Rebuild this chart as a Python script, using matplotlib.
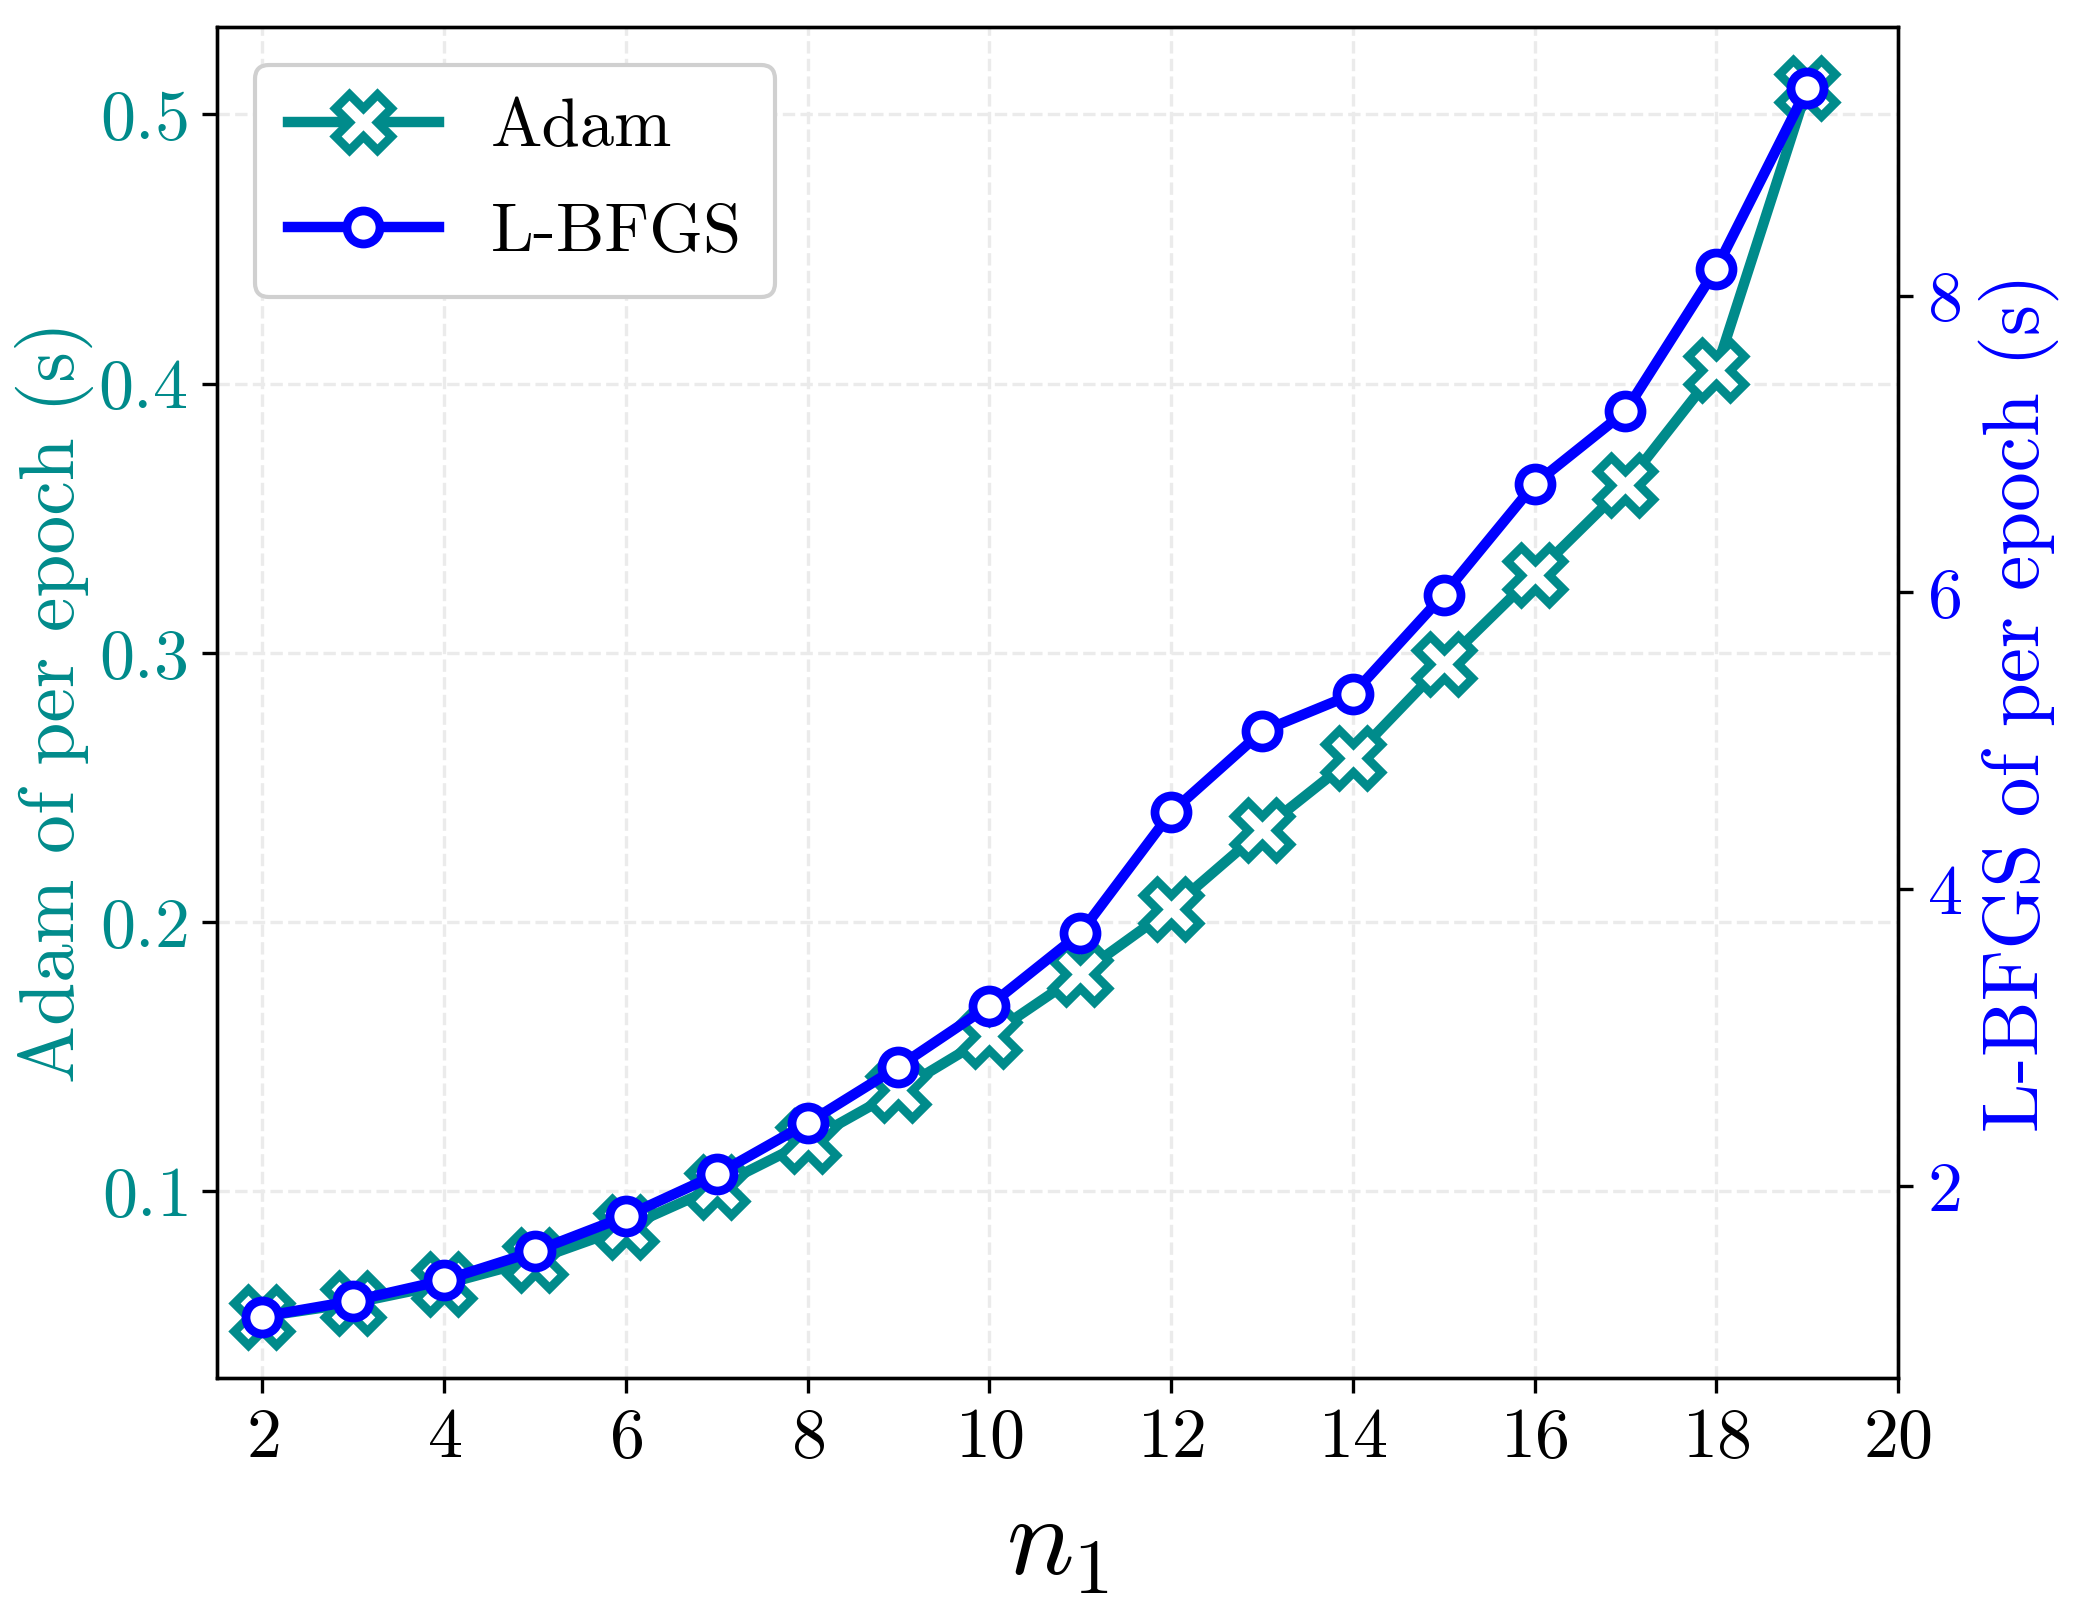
import matplotlib
matplotlib.use("Agg")
import matplotlib.pyplot as plt
import numpy as np

plt.rcParams['font.family'] = ['cmr10', 'DejaVu Serif']
plt.rcParams['mathtext.fontset'] = 'cm'
plt.rcParams['axes.formatter.use_mathtext'] = True

n1 = [2, 3, 4, 5, 6, 7, 8, 9, 10, 11, 12, 13, 14, 15, 16, 17, 18, 19]
adam_time = [0.0535, 0.0585, 0.0655, 0.0746, 0.0866, 0.1017, 0.1186, 0.1375,
             0.1578, 0.1807, 0.2050, 0.2341, 0.2609, 0.2960, 0.3290, 0.3622,
             0.4052, 0.5096]
lbfgs_time = [1.12, 1.226, 1.365, 1.56, 1.796, 2.078, 2.424, 2.804,
              3.215, 3.703, 4.517, 5.063, 5.314, 5.984, 6.730, 7.219,
              8.182, 9.396]
xticks = [2, 4, 6, 8, 10, 12, 14, 16, 18, 20]
left_ticks = [0.1, 0.2, 0.3, 0.4, 0.5]
right_ticks = [2, 4, 6, 8]

teal = '#008B8B'
blue = '#0000FF'
PX = 72 / 300

fig = plt.figure(figsize=(2091 / 300, 1618 / 300), dpi=300)
ax = fig.add_axes([217 / 2091, 1 - 1378 / 1618, 1681 / 2091, 1351 / 1618])
ax2 = ax.twinx()

ax.grid(True, linestyle='--', linewidth=0.8, color='#ebebeb', zorder=0)
ax.set_axisbelow(True)

l1, = ax.plot(n1, adam_time, color=teal, linewidth=2.5, marker='X',
              markersize=56 * PX, markerfacecolor='white', markeredgecolor=teal,
              markeredgewidth=2.1, label='Adam')
l2, = ax2.plot(n1, lbfgs_time, color=blue, linewidth=2.5, marker='o',
               markersize=33 * PX, markerfacecolor='white', markeredgecolor=blue,
               markeredgewidth=2.1, label='L-BFGS')

ax.set_xlim(1.5, 20)
ax.set_xticks(xticks)
ax.set_yticks(left_ticks)
ax2.set_yticks(right_ticks)

ax.tick_params(axis='x', labelsize=16.8, colors='black')
ax.tick_params(axis='y', labelsize=16.8, labelcolor=teal)
ax2.tick_params(axis='y', labelsize=16.8, labelcolor=blue)

ax.set_xlabel('$n_1$', fontsize=27, labelpad=6)
ax.set_ylabel('Adam of per epoch (s)', fontsize=18.6, color=teal, labelpad=1)
ax2.set_ylabel('L-BFGS of per epoch (s)', fontsize=19, color=blue, labelpad=4)

leg = ax2.legend(handles=[l1, l2], loc='upper left', fontsize=16.5,
                 handlelength=2.2, handletextpad=0.75, framealpha=1.0,
                 edgecolor='#d0d0d0', borderaxespad=0.55, labelspacing=0.64,
                 borderpad=0.48)
leg.get_frame().set_linewidth(1.0)

fig.savefig('out.png', dpi=300)
